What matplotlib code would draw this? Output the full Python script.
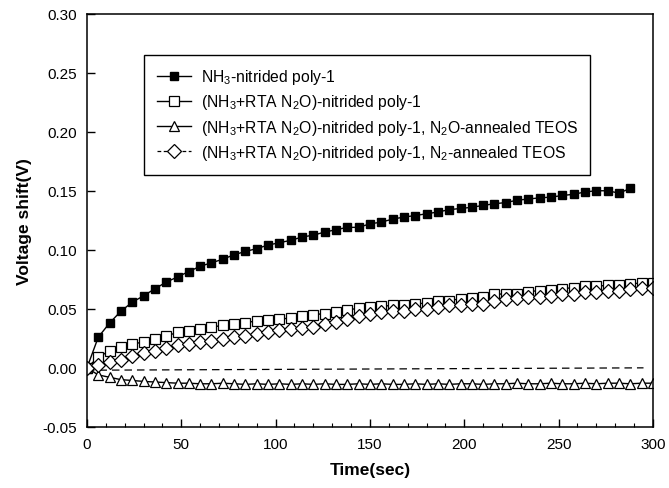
import matplotlib
matplotlib.use('Agg')
import matplotlib.pyplot as plt
from matplotlib.ticker import MultipleLocator

plt.rcParams['font.family'] = ['Liberation Sans', 'DejaVu Sans']
plt.rcParams['mathtext.default'] = 'regular'

# sample times (sec)
t_filled = list(range(0, 289, 6))
t_open = list(range(0, 301, 6))

# NH3-nitrided poly-1
v_nh3 = [0.000, 0.026, 0.038, 0.048, 0.0556, 0.061, 0.067, 0.0726, 0.077, 0.0816,
         0.086, 0.089, 0.092, 0.0958, 0.0986, 0.101, 0.104, 0.106, 0.108, 0.1108,
         0.1124, 0.115, 0.117, 0.119, 0.119, 0.122, 0.1234, 0.126, 0.1277, 0.129,
         0.1305, 0.132, 0.134, 0.135, 0.136, 0.1376, 0.139, 0.140, 0.142, 0.143,
         0.144, 0.1446, 0.146, 0.147, 0.149, 0.150, 0.150, 0.148, 0.152]

# (NH3+RTA N2O)-nitrided poly-1
v_rta = [0.000, 0.009, 0.0145, 0.0175, 0.020, 0.022, 0.0245, 0.027, 0.030, 0.0315,
         0.033, 0.0345, 0.036, 0.037, 0.038, 0.040, 0.0405, 0.0415, 0.042, 0.044,
         0.045, 0.046, 0.047, 0.049, 0.0505, 0.0515, 0.052, 0.053, 0.053, 0.054,
         0.055, 0.057, 0.057, 0.0585, 0.059, 0.060, 0.0625, 0.0625, 0.0625, 0.0645,
         0.0655, 0.066, 0.067, 0.068, 0.069, 0.069, 0.070, 0.070, 0.071, 0.072,
         0.072]

# N2O-annealed TEOS
v_n2o = [0.000, -0.006, -0.008, -0.010, -0.0107, -0.0115, -0.012, -0.0125, -0.013, -0.013,
         -0.0135, -0.0135, -0.013, -0.0135, -0.014, -0.0135, -0.014, -0.0135, -0.014, -0.0135,
         -0.014, -0.0135, -0.014, -0.014, -0.0135, -0.014, -0.0135, -0.014, -0.014, -0.0135,
         -0.014, -0.0135, -0.014, -0.0135, -0.0135, -0.014, -0.0135, -0.0135, -0.013, -0.0135,
         -0.0135, -0.013, -0.0135, -0.0135, -0.013, -0.0135, -0.013, -0.013, -0.0135, -0.013,
         -0.013]

# N2-annealed TEOS
v_n2 = [0.000, 0.002, 0.005, 0.007, 0.010, 0.0125, 0.0145, 0.0165, 0.019, 0.020,
        0.022, 0.023, 0.0245, 0.026, 0.027, 0.029, 0.0305, 0.032, 0.033, 0.034,
        0.035, 0.037, 0.039, 0.0415, 0.044, 0.046, 0.047, 0.0485, 0.0485, 0.050,
        0.050, 0.0515, 0.053, 0.053, 0.054, 0.054, 0.057, 0.0585, 0.059, 0.060,
        0.060, 0.061, 0.0625, 0.0625, 0.064, 0.064, 0.065, 0.0655, 0.067, 0.068,
        0.068]

# dashed reference line near zero
t_ref = [0, 295]
v_ref = [-0.002, 0.000]

labels = [r'NH$_3$-nitrided poly-1',
          r'(NH$_3$+RTA N$_2$O)-nitrided poly-1',
          r'(NH$_3$+RTA N$_2$O)-nitrided poly-1, N$_2$O-annealed TEOS',
          r'(NH$_3$+RTA N$_2$O)-nitrided poly-1, N$_2$-annealed TEOS']

fig = plt.figure(figsize=(6.69, 4.89), dpi=100)
ax = fig.add_axes([0.130, 0.125, 0.846, 0.845])

ax.plot(t_ref, v_ref, color='black', lw=0.9, ls=(0, (6, 4)))
ax.plot(t_filled, v_nh3, color='black', lw=1, marker='s', ms=6,
        mfc='black', mec='black', label=labels[0])
ax.plot(t_open, v_rta, color='black', lw=1, marker='s', ms=6.5,
        mfc='white', mec='black', mew=0.9, label=labels[1])
ax.plot(t_open, v_n2o, color='black', lw=1, marker='^', ms=7.5,
        mfc='white', mec='black', mew=0.9, label=labels[2])
ax.plot(t_open, v_n2, color='black', lw=0.9, ls=(0, (3, 2)), marker='D', ms=7,
        mfc='white', mec='black', mew=0.9, label=labels[3])

ax.set_xlim(0, 300)
ax.set_ylim(-0.05, 0.30)
ax.xaxis.set_major_locator(MultipleLocator(50))
ax.xaxis.set_minor_locator(MultipleLocator(10))
ax.yaxis.set_major_locator(MultipleLocator(0.05))
ax.yaxis.set_major_formatter(matplotlib.ticker.FormatStrFormatter('%.2f'))
ax.tick_params(axis='both', which='major', direction='in', length=6, width=1,
               labelsize=11, pad=7)
ax.tick_params(axis='x', which='minor', direction='in', length=3, width=0.8)
for sp in ax.spines.values():
    sp.set_linewidth(1.1)

ax.set_xlabel('Time(sec)', fontsize=12.5, fontweight='bold', labelpad=8)
ax.set_ylabel('Voltage shift(V)', fontsize=12.5, fontweight='bold', labelpad=8)

leg = ax.legend(loc='upper left', bbox_to_anchor=(0.087, 0.92), fontsize=11.3,
                frameon=True, fancybox=False, edgecolor='black', framealpha=1,
                handlelength=2.2, handletextpad=0.6, labelspacing=0.4,
                borderpad=0.8)
leg.get_frame().set_linewidth(1)

fig.savefig('out.png', dpi=100)
